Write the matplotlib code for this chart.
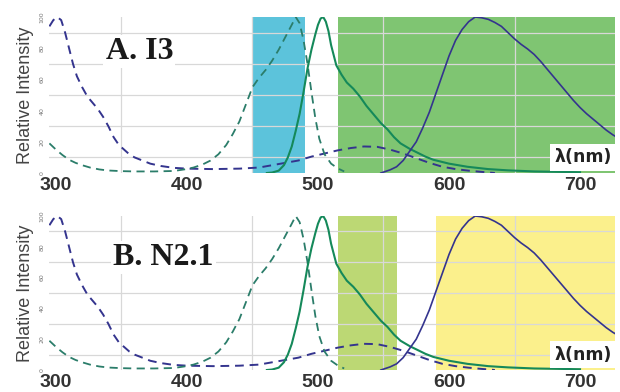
import numpy as np
import matplotlib
matplotlib.use("Agg")
import matplotlib.pyplot as plt

# wavelength (nm) / relative intensity
blue_abs_x = [295, 298, 301, 304, 307, 310, 313, 316, 320, 324, 328, 332, 336, 340, 344, 348, 352,
              356, 360, 366, 372, 380, 390, 400, 420, 440, 455, 465, 475, 485, 495, 505, 515, 525,
              535, 545, 555, 565, 575, 585, 595, 605, 615, 625, 635]
blue_abs_y = [94, 98, 100, 98, 90, 80, 70, 62, 55, 49, 45, 41, 36, 30, 23, 18, 15,
              12, 10, 8, 6, 4.5, 3.3, 2.8, 2.5, 2.8, 3.5, 5, 6.5, 8, 10.5, 12.5, 14.5, 16,
              17, 16.8, 15, 12.5, 9.5, 6.5, 4, 2.5, 1.5, 0.7, 0]

green_abs_x = [295, 300, 305, 310, 315, 320, 326, 333, 340, 350, 360, 375, 390, 398, 405, 412, 418,
               424, 430, 435, 440, 445, 450, 455, 460, 465, 470, 475, 480, 483, 486, 489, 492, 495,
               498, 501, 505, 510, 515, 520]
green_abs_y = [19, 15, 11.5, 8.5, 6.5, 5, 3.5, 2.3, 1.6, 1.2, 1, 1, 1.3, 2.3, 3.5, 5.5, 8,
               12, 18, 25, 33, 44, 55, 61, 66, 72, 79, 87, 95, 100, 96, 85, 70, 52,
               35, 22, 12, 6, 3, 1]

green_em_x = [461, 465, 470, 474, 477, 480, 483, 486, 489, 492, 495, 498, 500, 502, 504, 506, 508,
              510, 514, 518, 522, 527, 532, 537, 542, 548, 553, 558, 563, 570, 576, 582, 588, 600,
              614, 630, 645, 665, 700]
green_em_y = [0, 0.3, 1.5, 5, 10, 17, 27, 38, 52, 67, 79, 89, 95, 99, 100, 97, 91,
              82, 69, 63, 58, 54, 49, 43, 38, 32, 28, 23, 19, 15.5, 13, 10.5, 8.5, 6,
              4, 2.5, 1.7, 1, 0.5]

red_em_x = [548, 555, 560, 565, 570, 575, 580, 585, 590, 595, 600, 605, 610, 615, 620, 625, 630,
            635, 640, 645, 650, 655, 660, 665, 670, 675, 680, 685, 690, 695, 700, 705, 710, 715,
            720, 725, 728]
red_em_y = [0, 2, 4, 8, 14, 20, 29, 39, 51, 63, 75, 85, 92, 97, 100, 99.5, 98.5,
            96.5, 94, 90, 86, 82.5, 79.5, 76, 71.5, 66.5, 61.5, 56.5, 51.5, 46.5, 42, 38, 34.5, 31,
            27.5, 24.5, 23]

panel_titles = ["A. I3", "B. N2.1"]
bands = [
    [(450, 490, "#5cc3db"), (515, 730, "#7fc572")],
    [(515, 560, "#bcd874"), (590, 730, "#fbf08c")],
]
xticks = [300, 400, 500, 600, 700]
yticks = [0, 20, 40, 60, 80, 100]

BLUE = "#34348e"
GREEN_D = "#2b7d6a"
GREEN_S = "#15895a"

fig = plt.figure(figsize=(6.2, 3.92), dpi=100)
W, H = 620, 392
rects = [(49, 17, 566, 156), (49, 216, 566, 154)]
title_pos = [(0.10, 0.78), (0.113, 0.73)]

for i, (l, t, w, h) in enumerate(rects):
    ax = fig.add_axes([l / W, 1 - (t + h) / H, w / W, h / H])
    ax.set_xlim(294.7, 726.7)
    ax.set_ylim(0, 100)
    for x0, x1, c in bands[i]:
        ax.axvspan(x0, x1, color=c, lw=0, zorder=0.5)
    ax.set_xticks(np.arange(300, 727, 50), minor=True)
    ax.set_yticks(np.arange(0, 101, 10), minor=True)
    ax.grid(True, which="minor", color="#d8d8d8", lw=0.9, zorder=1)
    ax.set_axisbelow(False)
    for s in ax.spines.values():
        s.set_visible(False)
    ax.set_xticks(xticks)
    ax.set_xticklabels([str(v) for v in xticks], fontsize=14, fontweight="bold",
                       color="#333333", family="Liberation Sans")
    ax.set_yticks(yticks)
    ax.set_yticklabels([str(v) for v in yticks], fontsize=4.5, rotation=90,
                       color="#777777", va="center")
    ax.tick_params(which="both", length=0, pad=3)
    ax.tick_params(axis="x", pad=3)
    ax.set_ylabel("Relative Intensity", fontsize=13, color="#444444",
                  family="Liberation Sans", labelpad=4)

    ax.plot(blue_abs_x, blue_abs_y, color=BLUE, lw=1.4, ls=(0, (4.5, 3)), zorder=3)
    ax.plot(green_abs_x, green_abs_y, color=GREEN_D, lw=1.3, ls=(0, (4.5, 3)), zorder=3)
    ax.plot(green_em_x, green_em_y, color=GREEN_S, lw=1.5, zorder=3)
    ax.plot(red_em_x, red_em_y, color=BLUE, lw=1.2, zorder=3)

    tx, ty = title_pos[i]
    ax.text(tx, ty, panel_titles[i], transform=ax.transAxes,
            fontsize=23, fontweight="bold", family="Liberation Serif", color="#1a1a1a",
            va="center", ha="left",
            bbox=dict(facecolor="white", edgecolor="none", pad=1.5), zorder=5)
    ax.text(0.995, 0.10, "λ(nm)", transform=ax.transAxes, fontsize=12.5,
            fontweight="bold", family="DejaVu Sans", color="#222222",
            va="center", ha="right",
            bbox=dict(facecolor="white", edgecolor="none", pad=3.5), zorder=5)

fig.savefig("out.png", dpi=100)
